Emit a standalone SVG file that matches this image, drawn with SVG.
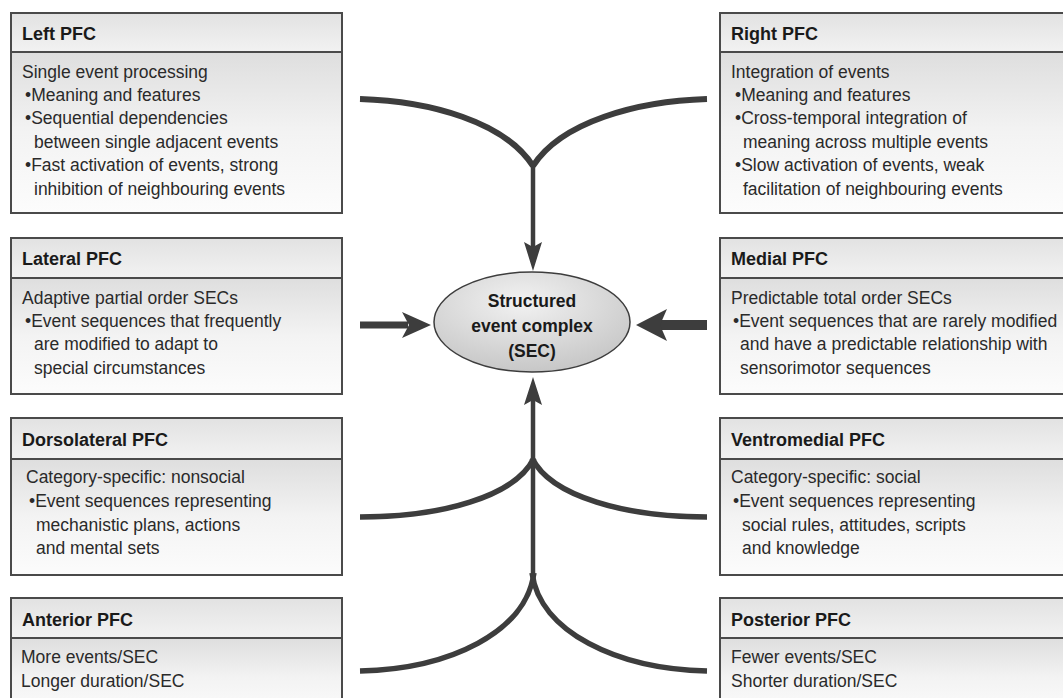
<svg xmlns="http://www.w3.org/2000/svg" width="1063" height="698" viewBox="0 0 1063 698">
<defs>
<linearGradient id="hdr" x1="0" y1="0" x2="0" y2="1"><stop offset="0" stop-color="#e2e2e2"/><stop offset="1" stop-color="#f2f2f2"/></linearGradient>
<linearGradient id="bdy" x1="0" y1="0" x2="0" y2="1"><stop offset="0" stop-color="#dedede"/><stop offset="0.5" stop-color="#f3f3f3"/><stop offset="1" stop-color="#fcfcfc"/></linearGradient>
<radialGradient id="ell" cx="0.45" cy="0.3" r="0.75"><stop offset="0" stop-color="#f2f2f2"/><stop offset="1" stop-color="#c4c4c4"/></radialGradient>
<style>
.h{fill:url(#hdr);stroke:#4a4a4a;stroke-width:2}
.b{fill:url(#bdy);stroke:#4a4a4a;stroke-width:2}
.t{font-family:"Liberation Sans",Arial,sans-serif;font-weight:bold;font-size:18px;fill:#1a1a1a}
.x{font-family:"Liberation Sans",Arial,sans-serif;font-size:17.5px;fill:#2a2a2a}
.c{fill:none;stroke:#3d3d3d;stroke-linecap:butt}
.a{fill:#3d3d3d}
.e{font-family:"Liberation Sans",Arial,sans-serif;font-weight:bold;font-size:17.5px;fill:#1a1a1a;text-anchor:middle}
</style>
</defs>
<rect width="1063" height="698" fill="#fff"/>
<g id="left-pfc">
<rect class="h" x="11" y="13" width="331" height="39"/>
<rect class="b" x="11" y="52" width="331" height="161"/>
<text class="t" x="22" y="40">Left PFC</text>
<text class="x" x="22" y="78">Single event processing</text>
<text class="x" x="25" y="101">•Meaning and features</text>
<text class="x" x="25" y="124">•Sequential dependencies</text>
<text class="x" x="34" y="148">between single adjacent events</text>
<text class="x" x="25" y="171">•Fast activation of events, strong</text>
<text class="x" x="34" y="195">inhibition of neighbouring events</text>
</g>
<g id="right-pfc">
<rect class="h" x="720" y="13" width="360" height="39"/>
<rect class="b" x="720" y="52" width="360" height="161"/>
<text class="t" x="731" y="40">Right PFC</text>
<text class="x" x="731" y="78">Integration of events</text>
<text class="x" x="735" y="101">•Meaning and features</text>
<text class="x" x="735" y="124">•Cross-temporal integration of</text>
<text class="x" x="743" y="148">meaning across multiple events</text>
<text class="x" x="735" y="171">•Slow activation of events, weak</text>
<text class="x" x="743" y="195">facilitation of neighbouring events</text>
</g>
<g id="lateral-pfc">
<rect class="h" x="11" y="238" width="331" height="40"/>
<rect class="b" x="11" y="278" width="331" height="116"/>
<text class="t" x="22" y="265">Lateral PFC</text>
<text class="x" x="22" y="304">Adaptive partial order SECs</text>
<text class="x" x="25" y="327">•Event sequences that frequently</text>
<text class="x" x="34" y="350">are modified to adapt to</text>
<text class="x" x="34" y="374">special circumstances</text>
</g>
<g id="medial-pfc">
<rect class="h" x="720" y="238" width="360" height="40"/>
<rect class="b" x="720" y="278" width="360" height="116"/>
<text class="t" x="731" y="265">Medial PFC</text>
<text class="x" x="731" y="304">Predictable total order SECs</text>
<text class="x" x="733" y="327">•Event sequences that are rarely modified</text>
<text class="x" x="740" y="350">and have a predictable relationship with</text>
<text class="x" x="740" y="374">sensorimotor sequences</text>
</g>
<g id="dorsolateral-pfc">
<rect class="h" x="11" y="418" width="331" height="41"/>
<rect class="b" x="11" y="459" width="331" height="116"/>
<text class="t" x="22" y="446">Dorsolateral PFC</text>
<text class="x" x="26" y="483">Category-specific: nonsocial</text>
<text class="x" x="29" y="507">•Event sequences representing</text>
<text class="x" x="36" y="531">mechanistic plans, actions</text>
<text class="x" x="36" y="554">and mental sets</text>
</g>
<g id="ventromedial-pfc">
<rect class="h" x="720" y="418" width="360" height="41"/>
<rect class="b" x="720" y="459" width="360" height="116"/>
<text class="t" x="731" y="446">Ventromedial PFC</text>
<text class="x" x="731" y="483">Category-specific: social</text>
<text class="x" x="733" y="507">•Event sequences representing</text>
<text class="x" x="742" y="531">social rules, attitudes, scripts</text>
<text class="x" x="742" y="554">and knowledge</text>
</g>
<g id="anterior-pfc">
<rect class="h" x="11" y="598" width="331" height="40"/>
<rect class="b" x="11" y="638" width="331" height="80"/>
<text class="t" x="22" y="626">Anterior PFC</text>
<text class="x" x="21" y="663">More events/SEC</text>
<text class="x" x="21" y="687">Longer duration/SEC</text>
</g>
<g id="posterior-pfc">
<rect class="h" x="720" y="598" width="360" height="40"/>
<rect class="b" x="720" y="638" width="360" height="80"/>
<text class="t" x="731" y="626">Posterior PFC</text>
<text class="x" x="731" y="663">Fewer events/SEC</text>
<text class="x" x="731" y="687">Shorter duration/SEC</text>
</g>
<g id="sec">
<ellipse cx="532" cy="322" rx="98" ry="50" fill="url(#ell)" stroke="#3d3d3d" stroke-width="1.5"/>
<text class="e" x="532" y="307">Structured</text>
<text class="e" x="532" y="332">event complex</text>
<text class="e" x="532" y="357">(SEC)</text>
</g>
<g id="connectors">
<path class="c" stroke-width="6" d="M360,99 C430,101 505,122 533,166"/>
<path class="c" stroke-width="6" d="M707,99 C637,101 561,122 533,166"/>
<path class="c" stroke-width="4.5" d="M533,163 V248"/>
<polygon class="a" points="533,271 524,242 533,247 542,242"/>
<path class="c" stroke-width="7" d="M360,325 H408"/>
<polygon class="a" points="431,325 402,312 409,325 402,338"/>
<path class="c" stroke-width="10" d="M707,325 H660"/>
<polygon class="a" points="636,325 667,309 660,325 667,341"/>
<path class="c" stroke-width="4.5" d="M533,577 V399"/>
<polygon class="a" points="533,377 524,405 533,400 542,405"/>
<path class="c" stroke-width="5.5" d="M360,517 C440,517 515,497 534,458"/>
<path class="c" stroke-width="5.5" d="M707,517 C627,517 551,497 532,458"/>
<path class="c" stroke-width="5.5" d="M360,671 C450,669 526,632 534,573"/>
<path class="c" stroke-width="5.5" d="M707,671 C617,669 540,632 532,573"/>
</g>
</svg>
